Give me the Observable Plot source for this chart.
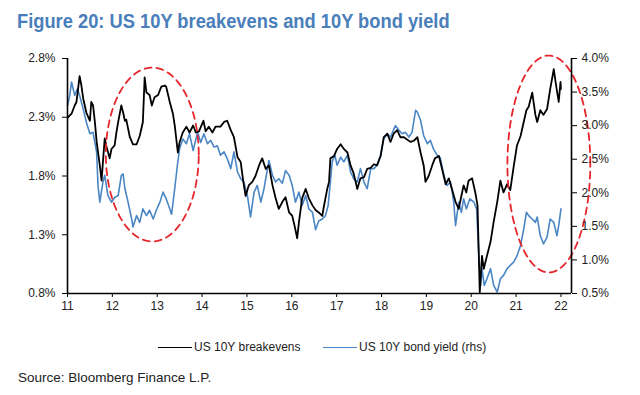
<!DOCTYPE html>
<html>
<head>
<meta charset="utf-8">
<script src="https://cdn.jsdelivr.net/npm/d3@7"></script>
<script src="https://cdn.jsdelivr.net/npm/@observablehq/plot@0.6"></script>
<style>
  html, body { margin: 0; padding: 0; background: #fff; }
  #page { position: relative; width: 640px; height: 395px; overflow: hidden; font-family: "Liberation Sans", Arial, sans-serif; }
  #title { position: absolute; left: 17px; top: 10px; font-family: "Liberation Sans Narrow", "Liberation Sans", Arial, sans-serif; font-weight: bold; font-size: 20px; color: #4a7ebb; white-space: nowrap; transform: scaleX(0.915); transform-origin: 0 0; }
  #chart { position: absolute; left: 0; top: 40px; }
  #legend { position: absolute; top: 339px; left: 0; width: 640px; font-size: 12px; color: #222; white-space: nowrap; }
  .item { position: absolute; top: 0; display: flex; align-items: center; height: 16px; }
  .swatch { width: 34px; height: 0; border-top-width: 1.5px; border-top-style: solid; margin-right: 2px; }
  #source { position: absolute; left: 18px; top: 370px; font-size: 13.5px; color: #222; white-space: nowrap; }
</style>
</head>
<body>
<div id="page">
  <div id="title">Figure 20: US 10Y breakevens and 10Y bond yield</div>
  <div id="chart"></div>
  <div id="legend">
    <div class="item" style="left:158px"><div class="swatch" style="border-top-color:#000"></div><span>US 10Y breakevens</span></div>
    <div class="item" style="left:323px"><div class="swatch" style="border-top-color:#4a86c5"></div><span>US 10Y bond yield (rhs)</span></div>
  </div>
  <div id="source">Source: Bloomberg Finance L.P.</div>
</div>
<script>
// ---- Data ----
// US 10Y breakevens (left axis, %)
const beYear = [2011.01,2011.09,2011.16,2011.20,2011.27,2011.31,2011.35,2011.42,2011.50,2011.53,2011.57,2011.61,2011.65,2011.72,2011.76,2011.79,2011.83,2011.87,2011.94,2011.98,
  2012.05,2012.09,2012.13,2012.20,2012.24,2012.28,2012.31,2012.39,2012.46,2012.54,2012.61,2012.68,2012.72,2012.76,2012.83,2012.88,2012.94,
  2013.02,2013.09,2013.17,2013.20,2013.28,2013.35,2013.39,2013.46,2013.50,2013.57,2013.65,2013.72,2013.80,2013.86,2013.93,
  2014.03,2014.08,2014.15,2014.23,2014.30,2014.41,2014.49,2014.56,2014.64,2014.71,2014.79,2014.86,2014.92,2014.97,
  2015.04,2015.12,2015.19,2015.27,2015.34,2015.42,2015.49,2015.57,2015.64,2015.71,2015.79,2015.86,2015.94,
  2016.01,2016.06,2016.12,2016.16,2016.23,2016.31,2016.38,2016.46,2016.53,2016.60,2016.68,2016.71,2016.79,2016.83,2016.86,2016.94,
  2017.01,2017.09,2017.16,2017.24,2017.31,2017.38,2017.46,2017.53,2017.61,2017.68,2017.76,2017.83,2017.90,2017.98,
  2018.05,2018.13,2018.20,2018.27,2018.35,2018.42,2018.50,2018.57,2018.65,2018.72,2018.80,2018.87,2018.94,2018.98,
  2019.05,2019.13,2019.19,2019.28,2019.35,2019.43,2019.50,2019.57,2019.65,2019.72,2019.78,2019.83,2019.89,2019.94,
  2020.02,2020.09,2020.14,2020.19,2020.24,2020.28,2020.35,2020.43,2020.50,2020.58,2020.65,2020.72,2020.80,2020.87,2020.95,
  2021.02,2021.10,2021.17,2021.23,2021.28,2021.36,2021.43,2021.47,2021.54,2021.61,2021.69,2021.76,2021.84,2021.88,2021.95,2021.99,2022.00];
const beValue = [2.30,2.33,2.40,2.43,2.65,2.57,2.46,2.34,2.27,2.43,2.40,2.26,2.09,1.89,1.76,1.92,2.12,2.05,1.95,2.03,
  2.06,2.17,2.26,2.40,2.34,2.27,2.28,2.13,2.07,2.07,2.14,2.26,2.64,2.51,2.49,2.40,2.47,
  2.49,2.56,2.57,2.56,2.43,2.33,2.23,2.00,2.09,2.17,2.22,2.17,2.23,2.17,2.18,
  2.27,2.18,2.22,2.17,2.22,2.22,2.26,2.27,2.19,2.13,1.96,1.92,1.75,1.63,
  1.72,1.75,1.80,1.89,1.95,1.86,1.89,1.72,1.61,1.52,1.58,1.62,1.49,
  1.46,1.38,1.27,1.41,1.61,1.69,1.61,1.55,1.51,1.49,1.46,1.53,1.69,1.75,1.95,1.97,
  2.03,2.07,2.03,2.00,1.89,1.82,1.69,1.78,1.79,1.86,1.87,1.90,1.89,1.97,
  2.13,2.16,2.09,2.16,2.19,2.13,2.13,2.11,2.09,2.10,2.13,2.00,1.89,1.75,
  1.80,1.89,1.95,1.97,1.86,1.73,1.78,1.69,1.58,1.52,1.63,1.72,1.66,1.76,
  1.78,1.66,1.55,0.81,1.12,1.01,1.12,1.24,1.41,1.58,1.76,1.66,1.73,1.68,1.89,
  2.06,2.14,2.26,2.36,2.39,2.51,2.32,2.26,2.36,2.32,2.37,2.54,2.71,2.60,2.43,2.60,2.54];

// US 10Y bond yield (right axis, %)
const ylYear = [2011.00,2011.05,2011.09,2011.16,2011.22,2011.27,2011.35,2011.42,2011.50,2011.57,2011.65,2011.68,2011.72,2011.79,2011.83,2011.90,2011.98,
  2012.05,2012.13,2012.20,2012.24,2012.28,2012.35,2012.43,2012.46,2012.54,2012.61,2012.68,2012.76,2012.83,2012.91,2012.98,
  2013.06,2013.13,2013.20,2013.28,2013.32,2013.39,2013.45,2013.50,2013.57,2013.65,2013.72,2013.80,2013.90,2013.97,
  2014.04,2014.12,2014.19,2014.27,2014.34,2014.41,2014.49,2014.56,2014.64,2014.71,2014.79,2014.86,2014.93,
  2015.01,2015.08,2015.16,2015.23,2015.31,2015.38,2015.49,2015.57,2015.64,2015.71,2015.79,2015.86,2015.94,
  2016.01,2016.08,2016.16,2016.23,2016.31,2016.38,2016.46,2016.53,2016.60,2016.68,2016.75,2016.81,2016.86,2016.90,2016.96,
  2017.01,2017.09,2017.16,2017.24,2017.31,2017.38,2017.46,2017.53,2017.61,2017.68,2017.76,2017.83,2017.90,2017.98,
  2018.05,2018.13,2018.20,2018.31,2018.39,2018.46,2018.53,2018.61,2018.68,2018.76,2018.80,2018.87,2018.94,
  2019.02,2019.09,2019.16,2019.24,2019.31,2019.39,2019.46,2019.54,2019.61,2019.65,2019.72,2019.78,2019.83,2019.89,2019.97,
  2020.06,2020.12,2020.17,2020.21,2020.24,2020.29,2020.35,2020.43,2020.50,2020.58,2020.65,2020.72,2020.80,2020.87,2020.95,
  2021.02,2021.10,2021.17,2021.23,2021.28,2021.36,2021.43,2021.47,2021.54,2021.61,2021.69,2021.76,2021.84,2021.91,2021.95,2022.00];
const ylValue = [3.30,3.45,3.65,3.45,3.55,3.45,3.25,3.05,2.88,2.90,2.60,2.11,1.86,2.16,2.26,1.96,1.86,
  1.93,1.96,2.26,2.28,2.06,1.86,1.61,1.49,1.66,1.56,1.76,1.66,1.74,1.61,1.74,
  1.86,2.01,1.91,1.76,1.68,2.06,2.41,2.66,2.80,2.73,2.88,2.63,2.90,2.75,
  2.88,2.73,2.78,2.68,2.70,2.56,2.61,2.51,2.36,2.61,2.31,2.21,2.16,
  1.96,1.64,2.01,2.11,1.86,2.06,2.48,2.26,2.16,2.21,2.14,2.33,2.26,
  2.11,1.86,2.01,1.81,1.96,1.76,1.71,1.45,1.58,1.61,1.66,1.81,2.16,2.46,2.56,
  2.41,2.53,2.46,2.56,2.31,2.21,2.16,2.36,2.16,2.06,2.36,2.36,2.41,2.56,
  2.80,2.88,2.83,3.00,2.93,2.88,2.90,2.83,2.90,3.23,3.20,3.08,2.85,
  2.73,2.78,2.65,2.56,2.52,2.26,2.11,2.16,1.86,1.51,1.86,1.71,1.91,1.76,1.91,
  1.86,1.76,1.06,0.62,0.87,0.62,0.72,0.87,0.62,0.52,0.72,0.77,0.87,0.92,0.97,
  1.06,1.22,1.46,1.71,1.66,1.61,1.56,1.64,1.36,1.24,1.34,1.61,1.56,1.36,1.51,1.76];

// Axis ticks and labels
const xTicks = [2011,2012,2013,2014,2015,2016,2017,2018,2019,2020,2021,2022];
const xTickLabels = ["11","12","13","14","15","16","17","18","19","20","21","22"];
const leftTicks = [0.8,1.3,1.8,2.3,2.8];
const rightTicks = [0.5,1.0,1.5,2.0,2.5,3.0,3.5,4.0];

// Annotation ellipses (centre and radii in data units: years, left-axis %)
const ellipseCx = [2012.89, 2021.73];
const ellipseCy = [1.983, 1.902];
const ellipseRx = [1.036, 0.924];
const ellipseRy = [0.740, 0.923];

// ---- Scales mapping: right axis -> left axis ----
const leftDomain = [0.8, 2.8];
const rightDomain = [0.5, 4.0];
const toLeft = r => leftDomain[0] + (r - rightDomain[0]) * (leftDomain[1] - leftDomain[0]) / (rightDomain[1] - rightDomain[0]);
const toRight = l => rightDomain[0] + (l - leftDomain[0]) * (rightDomain[1] - rightDomain[0]) / (leftDomain[1] - leftDomain[0]);

const xMax = 2022.235;

const beData = beYear.map((t, i) => ({t, v: beValue[i]}));
const ylData = ylYear.map((t, i) => ({t, v: toLeft(ylValue[i])}));

const ellipsePts = [];
ellipseCx.forEach((cx, k) => {
  for (let i = 0; i <= 120; i++) {
    const a = i / 120 * 2 * Math.PI;
    ellipsePts.push({k, t: cx + ellipseRx[k] * Math.cos(a), v: ellipseCy[k] + ellipseRy[k] * Math.sin(a)});
  }
});

const chart = Plot.plot({
  width: 640,
  height: 280,
  marginTop: 18,
  marginBottom: 27,
  marginLeft: 67,
  marginRight: 69,
  x: {domain: [2011, xMax], label: null},
  y: {domain: leftDomain, label: null},
  style: {fontFamily: "'Liberation Sans', Arial, sans-serif", fontSize: "12px", color: "#222", background: "white", overflow: "visible"},
  marks: [
    Plot.line(ylData, {x: "t", y: "v", stroke: "#4a86c5", strokeWidth: 1.6}),
    Plot.line(beData, {x: "t", y: "v", stroke: "#000", strokeWidth: 1.8}),
    Plot.line(ellipsePts, {x: "t", y: "v", z: "k", stroke: "#e5252a", strokeWidth: 1.8, strokeDasharray: "7,5", clip: false}),
    Plot.ruleX([2011], {stroke: "#000", strokeWidth: 1.6}),
    Plot.ruleX([xMax], {stroke: "#000", strokeWidth: 1.6}),
    Plot.ruleY([leftDomain[0]], {stroke: "#000", strokeWidth: 1.6}),
    Plot.axisX({ticks: xTicks, tickFormat: (d) => xTickLabels[xTicks.indexOf(d)], tickSize: 4, tickPadding: 4, label: null, stroke: "#000", fill: "#222"}),
    Plot.axisY({anchor: "left", ticks: leftTicks, tickFormat: d => d.toFixed(1) + "%", tickSize: 5, tickPadding: 7, label: null, stroke: "#000", fill: "#222"}),
    Plot.axisY({anchor: "right", ticks: rightTicks.map(toLeft), tickFormat: d => toRight(d).toFixed(1) + "%", tickSize: 5, tickPadding: 5, label: null, stroke: "#000", fill: "#222"})
  ]
});
document.getElementById("chart").appendChild(chart);
</script>
</body>
</html>
